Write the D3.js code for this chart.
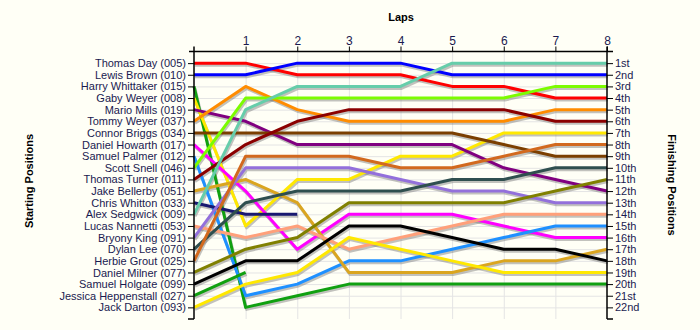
<!DOCTYPE html>
<html>
<head>
<meta charset="utf-8">
<script src="https://cdn.jsdelivr.net/npm/d3@7"></script>
<style>
  html, body { margin: 0; padding: 0; background: #fffff6; }
  svg { display: block; }
  text { font-family: "Liberation Sans", Arial, sans-serif; }
</style>
</head>
<body>
<svg id="chart" width="700" height="330"></svg>
<script>
const laps = [0, 1, 2, 3, 4, 5, 6, 7, 8];
const lapTicks = [1, 2, 3, 4, 5, 6, 7, 8];
const drivers = [
  "Thomas Day (005)", "Lewis Brown (010)", "Harry Whittaker (015)", "Gaby Weyer (008)",
  "Mario Mills (019)", "Tommy Weyer (037)", "Connor Briggs (034)", "Daniel Howarth (017)",
  "Samuel Palmer (012)", "Scott Snell (046)", "Thomas Turner (011)", "Jake Bellerby (051)",
  "Chris Whitton (033)", "Alex Sedgwick (009)", "Lucas Nannetti (053)", "Bryony King (091)",
  "Dylan Lee (070)", "Herbie Grout (025)", "Daniel Milner (077)", "Samuel Holgate (099)",
  "Jessica Heppenstall (027)", "Jack Darton (093)"
];
const finishLabels = ["1st","2nd","3rd","4th","5th","6th","7th","8th","9th","10th","11th",
  "12th","13th","14th","15th","16th","17th","18th","19th","20th","21st","22nd"];
const colors = [
  "#ff0000", "#0000ff", "#10a010", "#ffe800",
  "#800080", "#ff8c00", "#7b3f00", "#ff00ff",
  "#1e90ff", "#7cfc00", "#8b0000", "#daa520",
  "#191970", "#66cdaa", "#ffa07a", "#9370db",
  "#2f4f4f", "#d2691e", "#808000", "#000000",
  "#10a010", "#ffe800"
];
// positions per lap (lap 0 .. lap 8); shorter arrays = retired
const positions = [
  [1, 1, 2, 2, 2, 3, 3, 4, 4],        // Thomas Day
  [2, 2, 1, 1, 1, 2, 2, 2, 2],        // Lewis Brown
  [3, 22, 21, 20, 20, 20, 20, 20, 20],// Harry Whittaker
  [4, 15, 11, 11, 9, 9, 7, 7, 7],     // Gaby Weyer
  [5, 6, 8, 8, 8, 8, 10, 11, 12],     // Mario Mills
  [6, 3, 5, 6, 6, 6, 6, 5, 5],        // Tommy Weyer
  [7, 7, 7, 7, 7, 7, 8, 9, 9],        // Connor Briggs
  [8, 12, 17, 14, 14, 14, 15, 16, 16],// Daniel Howarth
  [9, 21, 20, 18, 18, 17, 16, 15, 15],// Samuel Palmer
  [10, 4, 4, 4, 4, 4, 4, 3, 3],       // Scott Snell
  [11, 8, 6, 5, 5, 5, 5, 6, 6],       // Thomas Turner
  [12, 11, 13, 19, 19, 19, 18, 18, 17],// Jake Bellerby
  [13, 14, 14],                        // Chris Whitton
  [14, 5, 3, 3, 3, 1, 1, 1, 1],       // Alex Sedgwick
  [15, 16, 15, 17, 16, 15, 14, 14, 14],// Lucas Nannetti
  [16, 10, 10, 10, 11, 12, 12, 13, 13],// Bryony King
  [17, 13, 12, 12, 12, 11, 11, 10, 10],// Dylan Lee
  [18, 9, 9, 9, 10, 10, 9, 8, 8],     // Herbie Grout
  [19, 17, 16, 13, 13, 13, 13, 12, 11],// Daniel Milner
  [20, 18, 18, 15, 15, 16, 17, 17, 18],// Samuel Holgate
  [21, 19],                            // Jessica Heppenstall
  [22, 20, 19, 16, 17, 18, 19, 19, 19] // Jack Darton
];

const svg = d3.select("#chart");
const x = d3.scaleLinear().domain([0, 8]).range([194, 607]);
const y = d3.scaleLinear().domain([0, 23]).range([51.5, 319]);
const rows = d3.range(1, 23);
const textColor = "#1a1a50";

svg.append("rect").attr("width", 700).attr("height", 330).attr("fill", "#fffff6");

// grid
const grid = svg.append("g").attr("stroke", "#e4e4e4").attr("stroke-width", 1);
grid.selectAll("line.h").data(rows).join("line").attr("class", "h")
  .attr("x1", x(0)).attr("x2", x(8)).attr("y1", d => y(d) + 0.5).attr("y2", d => y(d) + 0.5);
grid.selectAll("line.v").data(lapTicks.slice(0, 7)).join("line").attr("class", "v")
  .attr("x1", d => x(d) + 0.5).attr("x2", d => x(d) + 0.5).attr("y1", y(0)).attr("y2", y(23));

// lines
const line = d3.line().x((d, i) => x(laps[i])).y(d => y(d));
const lg = svg.append("g").attr("fill", "none").attr("stroke-linejoin", "round");
lg.selectAll("path.shadow").data(positions).join("path").attr("class", "shadow")
  .attr("d", line).attr("stroke", "#777").attr("stroke-opacity", 0.45)
  .attr("stroke-width", 3).attr("transform", "translate(1,2)");
lg.selectAll("path.main").data(positions).join("path").attr("class", "main")
  .attr("d", line).attr("stroke", (d, i) => colors[i]).attr("stroke-width", 3);

// axes
function styleAxis(g, size) {
  g.select(".domain").remove();
  g.selectAll(".tick line").attr("stroke", "#000");
  g.selectAll(".tick text").attr("fill", textColor).style("font-size", size);
}
const leftAxis = svg.append("g").attr("transform", `translate(${x(0)},0)`)
  .call(d3.axisLeft(y).tickValues(rows).tickFormat((d, i) => drivers[i]).tickSize(6).tickPadding(2));
styleAxis(leftAxis, "11px");
const rightAxis = svg.append("g").attr("transform", `translate(${x(8)},0)`)
  .call(d3.axisRight(y).tickValues(rows).tickFormat((d, i) => finishLabels[i]).tickSize(6).tickPadding(2));
styleAxis(rightAxis, "11px");
const topAxis = svg.append("g").attr("transform", `translate(0,${y(0)})`)
  .call(d3.axisTop(x).tickValues(lapTicks).tickSize(5).tickPadding(2));
styleAxis(topAxis, "12px");

// axis lines
const ax = svg.append("g").attr("stroke", "#000").attr("stroke-width", 1.5);
ax.append("line").attr("x1", x(0) - 5).attr("x2", x(8) + 6).attr("y1", y(0)).attr("y2", y(0));
ax.append("line").attr("x1", x(0)).attr("x2", x(0)).attr("y1", y(0) - 5).attr("y2", y(23));
ax.append("line").attr("x1", x(8)).attr("x2", x(8)).attr("y1", y(0) - 5).attr("y2", y(23));
ax.append("line").attr("x1", x(0) - 6).attr("x2", x(0)).attr("y1", y(23)).attr("y2", y(23));
ax.append("line").attr("x1", x(8)).attr("x2", x(8) + 6).attr("y1", y(23)).attr("y2", y(23));

// titles
svg.append("text").attr("x", 401).attr("y", 21).attr("text-anchor", "middle")
  .style("font-size", "11px").style("font-weight", "bold").text("Laps");
svg.append("text").attr("transform", "translate(33,181) rotate(-90)").attr("text-anchor", "middle")
  .style("font-size", "11px").style("font-weight", "bold").text("Starting Positions");
svg.append("text").attr("transform", "translate(668,185) rotate(90)").attr("text-anchor", "middle")
  .style("font-size", "11px").style("font-weight", "bold").text("Finishing Positions");
</script>
</body>
</html>
